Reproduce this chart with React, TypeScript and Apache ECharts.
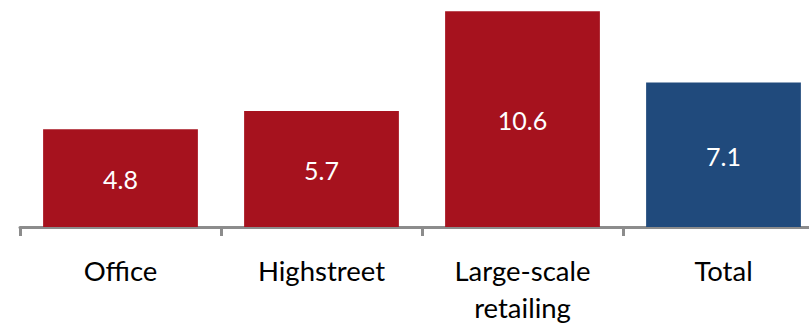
import React, { useEffect, useRef } from "react";
import * as echarts from "echarts";

const categories = ["Office", "Highstreet", "Large-scale\nretailing", "Total"];
const values = [4.8, 5.7, 10.6, 7.1];
const barColors = ["#A6121E", "#A6121E", "#A6121E", "#204A7C"];

export default function App() {
  const ref = useRef<HTMLDivElement>(null);
  useEffect(() => {
    if (!ref.current) return;
    const chart = echarts.init(ref.current, null, { renderer: "svg" });
    chart.setOption({
      animation: false,
      grid: { left: 20, width: 804, top: 3, bottom: 97, containLabel: false, outerBoundsMode: "none" },
      xAxis: {
        type: "category",
        data: categories,
        axisLine: { lineStyle: { color: "#8C8C8C", width: 3 } },
        axisTick: { show: true, length: 9, lineStyle: { color: "#8C8C8C", width: 3 } },
        axisLabel: {
          color: "#000",
          fontFamily: "Lato, 'Open Sans', sans-serif",
          fontSize: 27.5,
          lineHeight: 37,
          margin: 25,
          interval: 0,
        },
      },
      yAxis: {
        type: "value",
        min: 0,
        max: 11,
        show: false,
        splitLine: { show: false },
      },
      series: [
        {
          type: "bar",
          barWidth: "77%",
          data: values.map((v, i) => ({ value: v, itemStyle: { color: barColors[i] } })),
          label: {
            show: true,
            position: "inside",
            color: "#fff",
            fontFamily: "Lato, 'Open Sans', sans-serif",
            fontSize: 25,
            offset: [0, 1],
            formatter: (p: any) => p.value.toFixed(1),
          },
        },
      ],
    });
    return () => chart.dispose();
  }, []);
  return (
    <div style={{ width: 809, height: 324, position: "absolute", left: 0, top: 0, overflow: "hidden" }}>
      <div ref={ref} style={{ width: 840, height: 324 }} />
    </div>
  );
}
